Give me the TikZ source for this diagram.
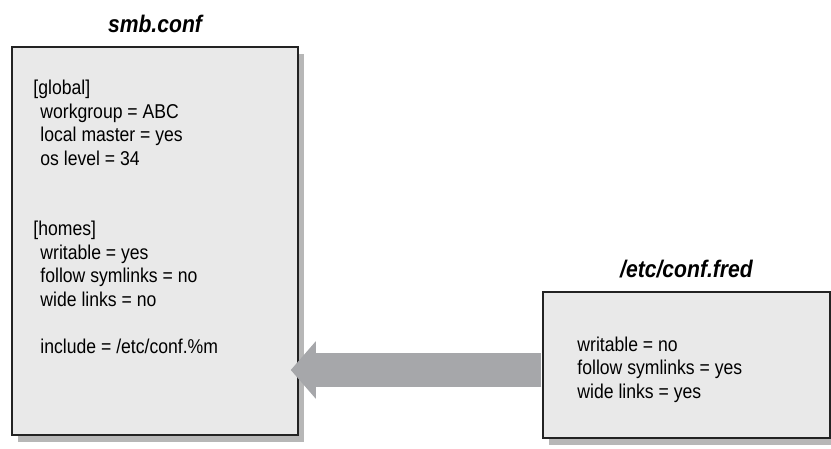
\documentclass[tikz,border=0pt]{standalone}
\usepackage{fontspec}
\setmainfont{Liberation Sans}[FakeStretch=0.88]
\usepackage{tikz}
\usetikzlibrary{arrows.meta,shadows}
\usetikzlibrary{positioning}
\definecolor{boxgray}{RGB}{233,233,233}
\definecolor{bordergray}{RGB}{35,35,35}
\definecolor{arrowgray}{RGB}{166,167,170}
\tikzstyle{conffile} = [rectangle, inner sep=0pt, fill=boxgray, draw=bordergray, line width=1.5pt, drop shadow={shadow xshift=6pt, shadow yshift=-7pt, fill=black!40, opacity=0.7}]
\tikzstyle{conftext} = [anchor=north west, inner sep=0pt, font=\fontsize{20}{23.5}\selectfont]
\tikzstyle{filetitle} = [anchor=base, inner sep=0pt, font=\fontsize{24}{28}\selectfont\bfseries\itshape]
\tikzstyle{feed} = [arrowgray, line width=34pt, -{Triangle[length=25pt, width=56pt]}]

\begin{document}
\begin{tikzpicture}[x=1pt, y=1pt]
\useasboundingbox (0,0) rectangle (831,-448);

\node (smbconf) [conffile, minimum width=286pt, minimum height=388pt] at (155,-241) {};
\node (fredconf) [conffile, minimum width=287pt, minimum height=146pt] at (686.5,-365) {};

\node (smbtitle) [filetitle] at ([yshift=14pt]smbconf.north) {smb.conf};
\node (fredtitle) [filetitle] at ([yshift=14pt]fredconf.north) {/etc/conf.fred};

\node (smbtext) [conftext] at ([shift={(22,-32)}]smbconf.north west) {
 \begin{tabular}{@{}l@{}}
  {[global]}\\
  \hspace*{7pt}workgroup = ABC\\
  \hspace*{7pt}local master = yes\\
  \hspace*{7pt}os level = 34\\
  \\
  \\
  {[homes]}\\
  \hspace*{7pt}writable = yes\\
  \hspace*{7pt}follow symlinks = no\\
  \hspace*{7pt}wide links = no\\
  \\
  \hspace*{7pt}include = /etc/conf.\%m
 \end{tabular}};

\node (fredtext) [conftext] at ([shift={(35,-43.5)}]fredconf.north west) {
 \begin{tabular}{@{}l@{}}
  writable = no\\
  follow symlinks = yes\\
  wide links = yes
 \end{tabular}};

% arrow from the included file back into smb.conf
\coordinate (feedstart) at ([yshift=-5pt]fredconf.west);
\coordinate (feedend) at ([xshift=-8pt]smbconf.east |- feedstart);
\draw[feed, shorten <=1pt] (feedstart) -- (feedend);
\end{tikzpicture}
\end{document}
